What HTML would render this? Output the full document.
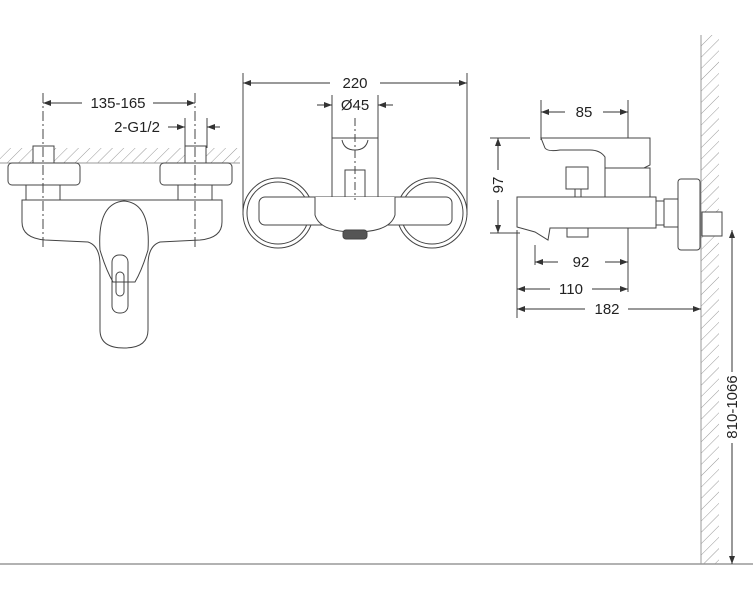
<!DOCTYPE html>
<html><head><meta charset="utf-8"><style>
html,body{margin:0;padding:0;background:#fff}
svg{display:block}
text{font-family:"Liberation Sans",sans-serif;font-size:15px;fill:#222}
</style></head><body>
<svg width="753" height="600" viewBox="0 0 753 600" xmlns="http://www.w3.org/2000/svg">
<defs>
<pattern id="h" width="8" height="8" patternUnits="userSpaceOnUse" patternTransform="rotate(45)">
<line x1="0" y1="0" x2="0" y2="8" stroke="#999" stroke-width="1"/>
</pattern>
<marker id="a" markerWidth="8" markerHeight="6" refX="8" refY="3" orient="auto-start-reverse" markerUnits="userSpaceOnUse">
<path d="M0,0 L8,3 L0,6 z" fill="#333"/>
</marker>
</defs>
<g fill="none" stroke="#444" stroke-width="1">
<line x1="0" y1="564" x2="753" y2="564" stroke="#999" stroke-width="1.5"/>
<rect x="701" y="35" width="18" height="529" fill="url(#h)" stroke="none"/>
<line x1="701" y1="35" x2="701" y2="564" stroke="#999"/>
<line x1="732" y1="230" x2="732" y2="372" stroke="#333" marker-start="url(#a)"/>
<line x1="732" y1="443" x2="732" y2="564" stroke="#333" marker-end="url(#a)"/>

<!-- LEFT VIEW -->
<rect x="0" y="148" width="240" height="15" fill="url(#h)" stroke="none"/>
<line x1="0" y1="163" x2="240" y2="163" stroke="#999"/>
<line x1="43" y1="103" x2="82" y2="103" stroke="#333" marker-start="url(#a)"/>
<line x1="153" y1="103" x2="195" y2="103" stroke="#333" marker-end="url(#a)"/>
<line x1="185" y1="118" x2="185" y2="148"/><line x1="207" y1="118" x2="207" y2="148"/>
<line x1="168" y1="127" x2="185" y2="127" stroke="#333" marker-end="url(#a)"/>
<line x1="220" y1="127" x2="207" y2="127" stroke="#333" marker-end="url(#a)"/>
<rect x="33" y="146" width="21" height="17" fill="#fff"/>
<rect x="185" y="146" width="21" height="17" fill="#fff"/>
<rect x="8" y="163" width="72" height="22" rx="4" fill="#fff"/>
<rect x="160" y="163" width="72" height="22" rx="4" fill="#fff"/>
<rect x="26" y="185" width="34" height="15" fill="#fff"/>
<rect x="178" y="185" width="34" height="15" fill="#fff"/>
<path d="M22,200 H222 V222 Q222,238 200,240 L160,242 Q148,246 148,265 L148,330 Q148,348 124,348 Q100,348 100,330 L100,265 Q100,246 88,242 L45,240 Q22,238 22,222 Z" fill="#fff"/>
<path d="M100,250 Q97,203 124,201 Q151,203 148,250 Q142,270 135,282 L113,282 Q106,270 100,250" />
<rect x="112" y="255" width="16" height="58" rx="7"/>
<rect x="116" y="272" width="8" height="24" rx="4"/>
<line x1="43" y1="93" x2="43" y2="250" stroke-dasharray="10,3,2,3"/>
<line x1="195" y1="93" x2="195" y2="250" stroke-dasharray="10,3,2,3"/>

<!-- MIDDLE VIEW -->
<line x1="243" y1="73" x2="243" y2="215"/><line x1="467" y1="73" x2="467" y2="215"/>
<line x1="243" y1="83" x2="330" y2="83" stroke="#333" marker-start="url(#a)"/>
<line x1="380" y1="83" x2="467" y2="83" stroke="#333" marker-end="url(#a)"/>
<line x1="332" y1="95" x2="332" y2="138"/><line x1="378" y1="95" x2="378" y2="138"/>
<line x1="317" y1="105" x2="332" y2="105" stroke="#333" marker-end="url(#a)"/>
<line x1="393" y1="105" x2="378" y2="105" stroke="#333" marker-end="url(#a)"/>
<circle cx="278" cy="213" r="35" fill="#fff"/>
<circle cx="278" cy="213" r="31"/>
<circle cx="432" cy="213" r="35" fill="#fff"/>
<circle cx="432" cy="213" r="31"/>
<rect x="332" y="138" width="46" height="59" fill="#fff"/>
<path d="M342,140 Q344,150 355,150 Q366,150 368,140"/>
<rect x="345" y="170" width="20" height="27" fill="#fff"/>
<rect x="259" y="197" width="193" height="28" rx="6" fill="#fff"/>
<path d="M315,197 V215 Q320,232 355,232 Q390,232 395,215 V197" fill="#fff"/>
<rect x="343" y="230" width="24" height="9" rx="3" fill="#555"/>
<line x1="355" y1="118" x2="355" y2="200" stroke-dasharray="8,3,2,3"/>

<!-- RIGHT VIEW -->
<line x1="541" y1="100" x2="541" y2="140"/><line x1="628" y1="100" x2="628" y2="292"/>
<line x1="541" y1="112" x2="565" y2="112" stroke="#333" marker-start="url(#a)"/>
<line x1="603" y1="112" x2="628" y2="112" stroke="#333" marker-end="url(#a)"/>
<line x1="490" y1="138" x2="530" y2="138"/><line x1="490" y1="233" x2="520" y2="233"/>
<line x1="498" y1="138" x2="498" y2="170" stroke="#333" marker-start="url(#a)"/>
<line x1="498" y1="200" x2="498" y2="233" stroke="#333" marker-end="url(#a)"/>
<path d="M541,138 H650 V165 L640,170 L605,172 V157 Q600,150 590,150 H560 Q548,152 545,148 Z" fill="#fff"/>
<rect x="605" y="168" width="45" height="29" fill="#fff"/>
<rect x="566" y="167" width="22" height="22" fill="#fff"/>
<rect x="575" y="189" width="6" height="8"/>
<path d="M517,197 H656 V228 H550 L548,240 L535,232 L517,227 Z" fill="#fff"/>
<rect x="567" y="228" width="21" height="9" fill="#fff"/>
<rect x="656" y="201" width="8" height="24" fill="#fff"/>
<rect x="664" y="199" width="14" height="28" fill="#fff"/>
<rect x="678" y="179" width="22" height="71" rx="3" fill="#fff"/>
<rect x="702" y="212" width="20" height="24" fill="#fff"/>
<line x1="517" y1="230" x2="517" y2="318"/><line x1="535" y1="245" x2="535" y2="265"/>
<line x1="535" y1="262" x2="558" y2="262" stroke="#333" marker-start="url(#a)"/>
<line x1="605" y1="262" x2="628" y2="262" stroke="#333" marker-end="url(#a)"/>
<line x1="517" y1="289" x2="550" y2="289" stroke="#333" marker-start="url(#a)"/>
<line x1="592" y1="289" x2="628" y2="289" stroke="#333" marker-end="url(#a)"/>
<line x1="517" y1="309" x2="585" y2="309" stroke="#333" marker-start="url(#a)"/>
<line x1="628" y1="309" x2="701" y2="309" stroke="#333" marker-end="url(#a)"/>
</g>
<text x="118" y="108" text-anchor="middle">135-165</text>
<text x="137" y="132" text-anchor="middle">2-G1/2</text>
<text x="355" y="88" text-anchor="middle">220</text>
<text x="355" y="110" text-anchor="middle">Ø45</text>
<text x="584" y="117" text-anchor="middle">85</text>
<text x="581" y="267" text-anchor="middle">92</text>
<text x="571" y="294" text-anchor="middle">110</text>
<text x="607" y="314" text-anchor="middle">182</text>
<text transform="translate(503,185) rotate(-90)" text-anchor="middle">97</text>
<text transform="translate(737,407) rotate(-90)" text-anchor="middle">810-1066</text>
</svg>
</body></html>
